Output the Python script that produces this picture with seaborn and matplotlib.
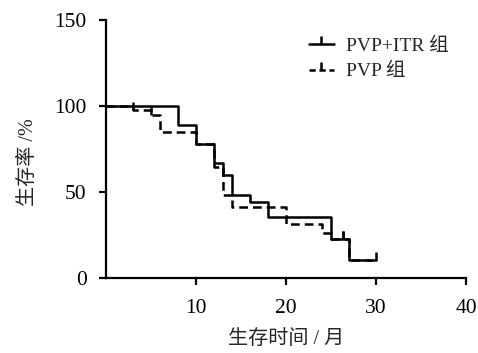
import matplotlib
matplotlib.use("Agg")
import matplotlib.pyplot as plt
from matplotlib.lines import Line2D
import seaborn as sns
import pandas as pd

# Kaplan-Meier style survival curves (step after each time point)
itr_time = [0, 8, 10, 12, 13, 14, 16, 18, 25, 27, 30]
itr_surv = [100, 89, 78, 67, 60, 48.5, 44, 35.5, 22.6, 10.5, 10.5]
itr_cens_time = [26.3, 30]
itr_cens_surv = [22.6, 10.5]

pvp_time = [0, 3, 5, 6, 10, 12, 13, 14, 20, 24, 25, 27, 29.5]
pvp_surv = [100, 97.5, 95, 85, 78, 64.5, 48, 41, 31.5, 26, 22.6, 10.5, 10.5]
pvp_cens_time = [3, 5, 26.3]
pvp_cens_surv = [97.5, 95, 22.6]

labels = ["PVP+ITR 组", "PVP 组"]

sns.set_style("ticks")
plt.rcParams['font.family'] = ['Liberation Serif', 'Noto Sans CJK SC']
plt.rcParams['axes.unicode_minus'] = False

fig = plt.figure(figsize=(4.78, 3.53), dpi=100)
ax = fig.add_axes([0.222, 0.2125, 0.753, 0.731])

df_itr = pd.DataFrame({'t': itr_time, 's': itr_surv})
df_pvp = pd.DataFrame({'t': pvp_time, 's': pvp_surv})

lw = 1.8
sns.lineplot(data=df_pvp, x='t', y='s', ax=ax, color='black', lw=lw,
             drawstyle='steps-post', linestyle=(0, (3.5, 2)), estimator=None, sort=False)
sns.lineplot(data=df_itr, x='t', y='s', ax=ax, color='black', lw=lw,
             drawstyle='steps-post', estimator=None, sort=False)

ax.plot(itr_cens_time, itr_cens_surv, linestyle='none', marker=2, ms=6, mew=lw, color='black')
ax.plot(pvp_cens_time, pvp_cens_surv, linestyle='none', marker=2, ms=6, mew=lw, color='black')

ax.set_xlim(0, 40)
ax.set_ylim(0, 150)
ax.set_xticks([10, 20, 30, 40])
ax.set_yticks([0, 50, 100, 150])
for s in ['top', 'right']:
    ax.spines[s].set_visible(False)
for s in ['left', 'bottom']:
    ax.spines[s].set_linewidth(1.6)
    ax.spines[s].set_color('black')
ax.tick_params(axis='both', direction='out', length=5, width=1.6, colors='black', labelsize=15.5)
ax.tick_params(axis='x', pad=10)
ax.tick_params(axis='y', pad=9)

ax.set_xlabel("生存时间 / 月", fontsize=14.5, labelpad=9)
ax.set_ylabel("生存率 /%", fontsize=14.5)
ax.yaxis.set_label_coords(-0.19, 0.45)

handles = [
    Line2D([], [], color='black', lw=lw, marker=2, ms=6, mew=lw),
    Line2D([], [], color='black', lw=lw, linestyle=(0, (2.5, 1.5)), marker=2, ms=6, mew=lw),
]
ax.legend(handles, labels, loc='upper right', bbox_to_anchor=(1.0, 1.0), frameon=False,
          fontsize=14, handlelength=1.3, handletextpad=0.6, labelspacing=0.4, numpoints=1)

fig.savefig('out.png', dpi=100)
